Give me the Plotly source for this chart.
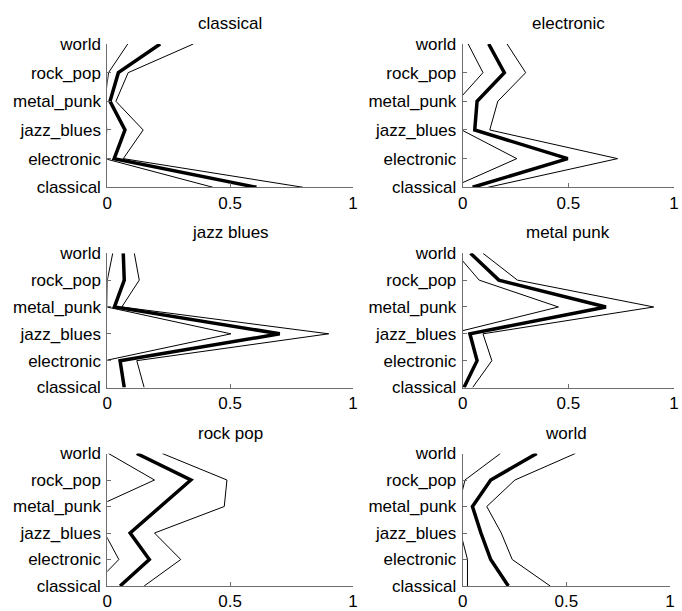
import plotly.graph_objects as go

genres = ["classical", "electronic", "jazz_blues", "metal_punk", "rock_pop", "world"]
titles = ["classical", "electronic", "jazz blues", "metal punk", "rock pop", "world"]
x_tick_vals = [0, 0.5, 1]
x_tick_text = ["0", "0.5", "1"]

# values per panel, ordered as genres (classical ... world)
mean_classical = [0.607, 0.028, 0.072, 0.011, 0.045, 0.215]
hi_classical = [0.797, 0.065, 0.146, 0.035, 0.085, 0.350]
lo_classical = [0.430, -0.010, -0.002, -0.010, 0.005, 0.083]

mean_electronic = [0.047, 0.497, 0.057, 0.068, 0.197, 0.123]
hi_electronic = [0.120, 0.733, 0.128, 0.166, 0.298, 0.210]
lo_electronic = [-0.050, 0.256, -0.005, -0.026, 0.096, 0.026]

mean_jazz = [0.069, 0.052, 0.702, 0.029, 0.069, 0.065]
hi_jazz = [0.150, 0.120, 0.901, 0.059, 0.130, 0.110]
lo_jazz = [-0.010, -0.010, 0.503, -0.002, 0.000, 0.022]

mean_metal = [0.006, 0.068, 0.034, 0.678, 0.171, 0.037]
hi_metal = [0.047, 0.138, 0.096, 0.904, 0.259, 0.096]
lo_metal = [-0.040, -0.005, -0.060, 0.453, 0.078, -0.031]

mean_rock = [0.052, 0.171, 0.093, 0.216, 0.340, 0.120]
hi_rock = [0.150, 0.299, 0.192, 0.476, 0.487, 0.224]
lo_rock = [-0.058, 0.047, -0.011, -0.044, 0.192, 0.005]

mean_world = [0.220, 0.135, 0.088, 0.047, 0.135, 0.357]
hi_world = [0.422, 0.239, 0.186, 0.116, 0.252, 0.543]
lo_world = [0.023, 0.023, -0.010, -0.020, 0.011, 0.182]

panels = [
    (mean_classical, lo_classical, hi_classical),
    (mean_electronic, lo_electronic, hi_electronic),
    (mean_jazz, lo_jazz, hi_jazz),
    (mean_metal, lo_metal, hi_metal),
    (mean_rock, lo_rock, hi_rock),
    (mean_world, lo_world, hi_world),
]

W, H = 682, 611
col_px = [(107.3, 353.0), (462.7, 674.0)]
row_px = [(44.0, 187.3), (253.3, 387.5), (453.5, 586.0)]

FONT = "Liberation Sans, Arial, sans-serif"
AXIS_COLOR = "#6e6e6e"

fig = go.Figure()
layout = dict(
    width=W, height=H,
    margin=dict(l=0, r=0, t=0, b=0, autoexpand=False),
    paper_bgcolor="white", plot_bgcolor="white",
    showlegend=False,
    font=dict(family=FONT, size=17, color="black"),
    annotations=[],
)
yidx = list(range(len(genres)))

for i, (m, lo, hi) in enumerate(panels):
    r, c = divmod(i, 2)
    n = i + 1
    xa = "x" if n == 1 else f"x{n}"
    ya = "y" if n == 1 else f"y{n}"
    for vals, w in ((lo, 1), (hi, 1), (m, 3.5)):
        fig.add_trace(go.Scatter(x=vals, y=yidx, mode="lines",
                                 line=dict(color="black", width=w),
                                 xaxis=xa, yaxis=ya, hoverinfo="skip"))
    x0, x1 = col_px[c]
    if r == 2 and c == 1:
        x1 = 670.0
    ytop, ybot = row_px[r]
    xd = [x0 / W, x1 / W]
    yd = [1 - ybot / H, 1 - ytop / H]
    layout["xaxis" if n == 1 else f"xaxis{n}"] = dict(
        domain=xd, range=[0, 1], anchor=ya, automargin=False,
        tickvals=x_tick_vals, ticktext=x_tick_text,
        ticks="inside", ticklen=4, tickcolor=AXIS_COLOR,
        showline=True, linecolor=AXIS_COLOR, linewidth=1,
        showgrid=False, zeroline=False,
        tickfont=dict(family=FONT, size=17, color="black"),
        ticklabelstandoff=0, ticklabeloverflow="allow",
    )
    layout["yaxis" if n == 1 else f"yaxis{n}"] = dict(
        domain=yd, range=[0, 5], anchor=xa, automargin=False,
        tickvals=yidx, ticktext=genres,
        ticks="inside", ticklen=4, tickcolor=AXIS_COLOR,
        showline=True, linecolor=AXIS_COLOR, linewidth=1,
        showgrid=False, zeroline=False,
        tickfont=dict(family=FONT, size=17, color="black"),
        ticklabelstandoff=2, ticklabeloverflow="allow",
    )
    layout["annotations"].append(dict(
        text=titles[i], x=(x0 + x1) / 2 / W, y=yd[1],
        xref="paper", yref="paper", xanchor="center", yanchor="bottom",
        yshift=9, showarrow=False,
        font=dict(family=FONT, size=17, color="black"),
    ))

fig.update_layout(**layout)
fig.write_html(
    "out.html",
    config={"displayModeBar": False},
    post_script="document.body.style.margin='0';document.body.style.overflow='hidden';",
)
